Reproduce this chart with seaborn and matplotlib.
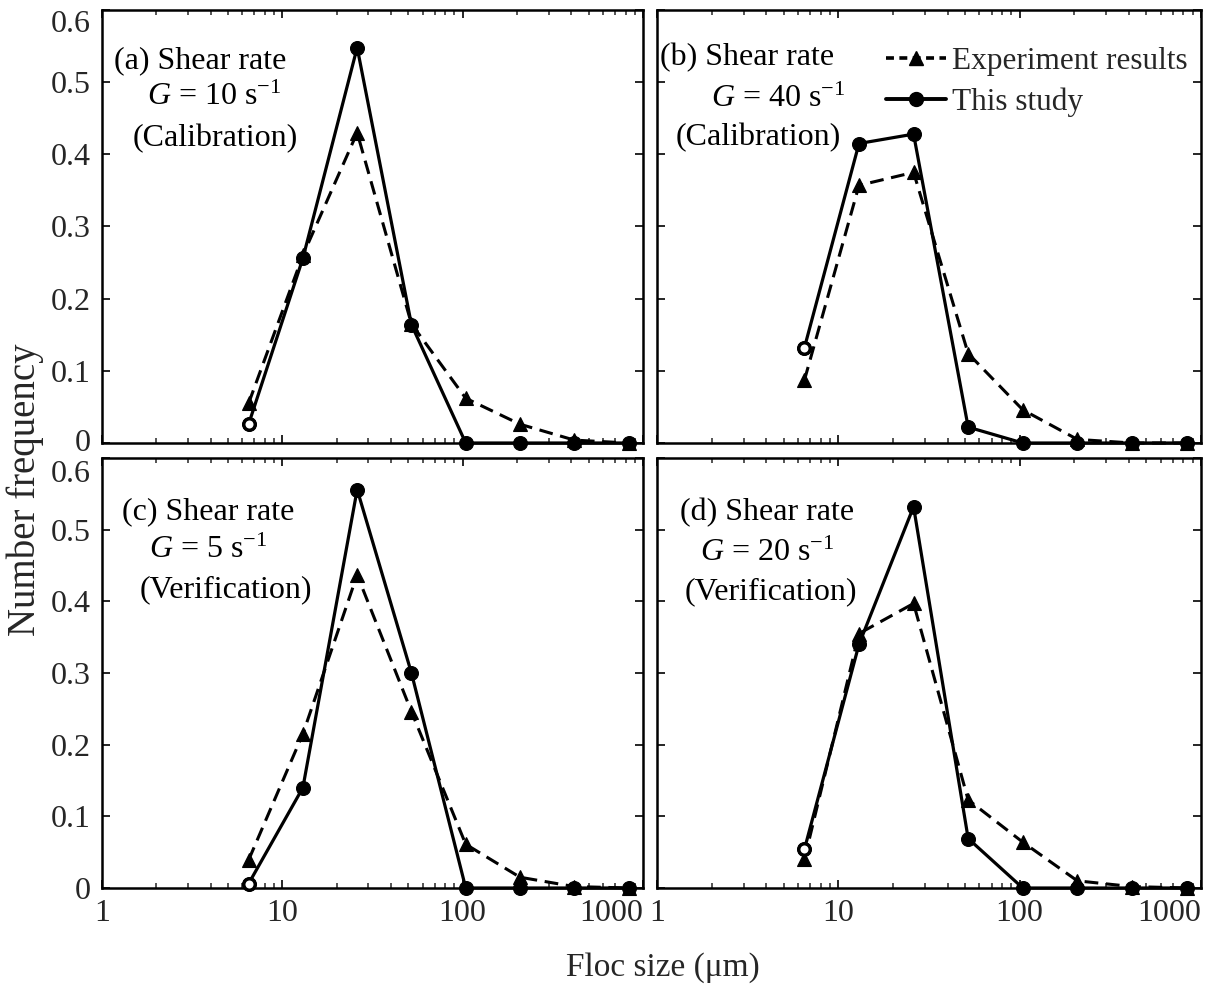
import matplotlib
matplotlib.use("Agg")
import matplotlib.pyplot as plt
import matplotlib.transforms as mtransforms
import seaborn as sns
import numpy as np
from matplotlib.lines import Line2D
from matplotlib.ticker import LogLocator, NullFormatter, FixedLocator

# ---------------- data ----------------
floc_sizes = [6.5, 13, 26, 52, 104, 208, 416, 832]

a_experiment = [0.055, 0.26, 0.43, 0.165, 0.062, 0.026, 0.004, 0.0]
a_study = [0.026, 0.256, 0.548, 0.164, 0.0, 0.0, 0.0, 0.0]
b_experiment = [0.087, 0.357, 0.375, 0.124, 0.046, 0.005, 0.0, 0.0]
b_study = [0.132, 0.415, 0.428, 0.022, 0.0, 0.0, 0.0, 0.0]
c_experiment = [0.039, 0.215, 0.437, 0.246, 0.061, 0.015, 0.002, 0.0]
c_study = [0.006, 0.14, 0.556, 0.30, 0.0, 0.0, 0.0, 0.0]
d_experiment = [0.04, 0.355, 0.397, 0.123, 0.064, 0.01, 0.002, 0.0]
d_study = [0.054, 0.34, 0.532, 0.069, 0.0, 0.0, 0.0, 0.0]

panel_tags = ["(a) Shear rate", "(b) Shear rate", "(c) Shear rate", "(d) Shear rate"]
panel_G = ["$G$ = 10 s$^{-1}$", "$G$ = 40 s$^{-1}$", "$G$ = 5 s$^{-1}$", "$G$ = 20 s$^{-1}$"]
panel_kind = ["(Calibration)", "(Calibration)", "(Verification)", "(Verification)"]

x_ticks = [1, 10, 100, 1000]
x_ticklabels = ["1", "10", "100", "1000"]
y_ticks = [0, 0.1, 0.2, 0.3, 0.4, 0.5, 0.6]
y_ticklabels = ["0", "0.1", "0.2", "0.3", "0.4", "0.5", "0.6"]

series_labels = ["Experiment results", "This study"]
x_label = "Floc size (\u03bcm)"
y_label = "Number frequency"

# ---------------- style ----------------
sns.set_theme(style="ticks")
plt.rcParams["font.family"] = ["Liberation Serif", "DejaVu Serif"]
plt.rcParams["mathtext.fontset"] = "custom"
plt.rcParams["mathtext.rm"] = "Liberation Serif"
plt.rcParams["mathtext.it"] = "Liberation Serif:italic"
plt.rcParams["axes.linewidth"] = 1.6

fig = plt.figure(figsize=(12.13, 9.88), dpi=100)

W, H = 1213.0, 988.0
cols = [(102, 643), (657, 1201)]
rows = [(10, 443), (458, 888)]

panels = [
    (a_experiment, a_study),
    (b_experiment, b_study),
    (c_experiment, c_study),
    (d_experiment, d_study),
]

text_pos = [
    [(0.181, 0.882), (0.207, 0.799), (0.209, 0.704)],
    [(0.166, 0.889), (0.222, 0.794), (0.186, 0.706)],
    [(0.196, 0.874), (0.196, 0.786), (0.229, 0.693)],
    [(0.203, 0.872), (0.203, 0.779), (0.210, 0.688)],
]

FS_TICK = 23
FS_TEXT = 23
DASH = (0, (4.5, 2.5))

axes = []
for i, (exp, sim) in enumerate(panels):
    r, c = divmod(i, 2)
    x0, x1 = cols[c]
    y0, y1 = rows[r]
    ax = fig.add_axes([x0 / W, 1 - y1 / H, (x1 - x0) / W, (y1 - y0) / H])
    axes.append(ax)

    sns.lineplot(x=floc_sizes, y=exp, ax=ax, color="black", linestyle=DASH,
                 linewidth=2.2, marker="^", markersize=10, markeredgewidth=0.8,
                 markeredgecolor="black", estimator=None, sort=False, clip_on=False,
                 zorder=3)
    sns.lineplot(x=floc_sizes, y=sim, ax=ax, color="black", linestyle="-",
                 linewidth=2.3, marker="o", markersize=10, markeredgewidth=0.8,
                 markeredgecolor="black", estimator=None, sort=False, clip_on=False,
                 zorder=4)
    # first simulated point is drawn hollow in the original
    ax.plot(floc_sizes[0], sim[0], marker="o", markersize=8, markerfacecolor="white",
            markeredgecolor="black", markeredgewidth=2.2, linestyle="none",
            clip_on=False, zorder=5)

    ax.set_xscale("log")
    ax.set_xlim(1, 1000)
    ax.set_ylim(0, 0.6)
    ax.xaxis.set_major_locator(FixedLocator(x_ticks))
    ax.xaxis.set_minor_locator(LogLocator(base=10, subs=np.arange(2, 10), numticks=20))
    ax.xaxis.set_minor_formatter(NullFormatter())
    ax.set_yticks(y_ticks)

    ax.tick_params(which="major", direction="in", top=True, right=True,
                   length=6, width=1.4, labelsize=FS_TICK, pad=8)
    ax.tick_params(which="minor", direction="in", top=True, right=True,
                   length=3.5, width=1.1)

    if r == 1:
        ax.set_xticklabels(x_ticklabels)
        labs = ax.get_xticklabels()
        labs[-1].set_horizontalalignment("right")
    else:
        ax.set_xticklabels([])
    if c == 0:
        ax.set_yticklabels(y_ticklabels)
        ylabs = ax.get_yticklabels()
        ylabs[-1].set_verticalalignment("top")
        if r == 0:
            up = mtransforms.ScaledTranslation(0, 3 / 100.0, fig.dpi_scale_trans)
            ylabs[0].set_transform(ylabs[0].get_transform() + up)
        else:
            down = mtransforms.ScaledTranslation(0, -2 / 100.0, fig.dpi_scale_trans)
            ylabs[-1].set_transform(ylabs[-1].get_transform() + down)
    else:
        ax.set_yticklabels([])
    ax.set_xlabel("")
    ax.set_ylabel("")

    for s in ax.spines.values():
        s.set_linewidth(1.8)
        s.set_color("black")

    lines = [panel_tags[i], panel_G[i], panel_kind[i]]
    for txt, (tx, ty) in zip(lines, text_pos[i]):
        ax.text(tx, ty, txt, transform=ax.transAxes, ha="center", va="center",
                fontsize=FS_TEXT, color="black", zorder=6)

# legend in panel (b)
handles = [
    Line2D([], [], color="black", linestyle=(0, (2.2, 1.5)), linewidth=2.6, marker="^",
           markersize=10),
    Line2D([], [], color="black", linestyle="-", linewidth=2.8, marker="o", markersize=10),
]
axes[1].legend(handles, series_labels, loc="upper right", bbox_to_anchor=(0.975, 0.915),
               frameon=False, fontsize=22.5, handlelength=1.9, handletextpad=0.2,
               labelspacing=0.38, borderpad=0, borderaxespad=0)

fig.text(25 / W, 1 - 490 / H, y_label, rotation=90, ha="center", va="center", fontsize=28)
fig.text(663 / W, 1 - 968 / H, x_label, ha="center", va="center", fontsize=24)

fig.savefig("out.png", dpi=100)
